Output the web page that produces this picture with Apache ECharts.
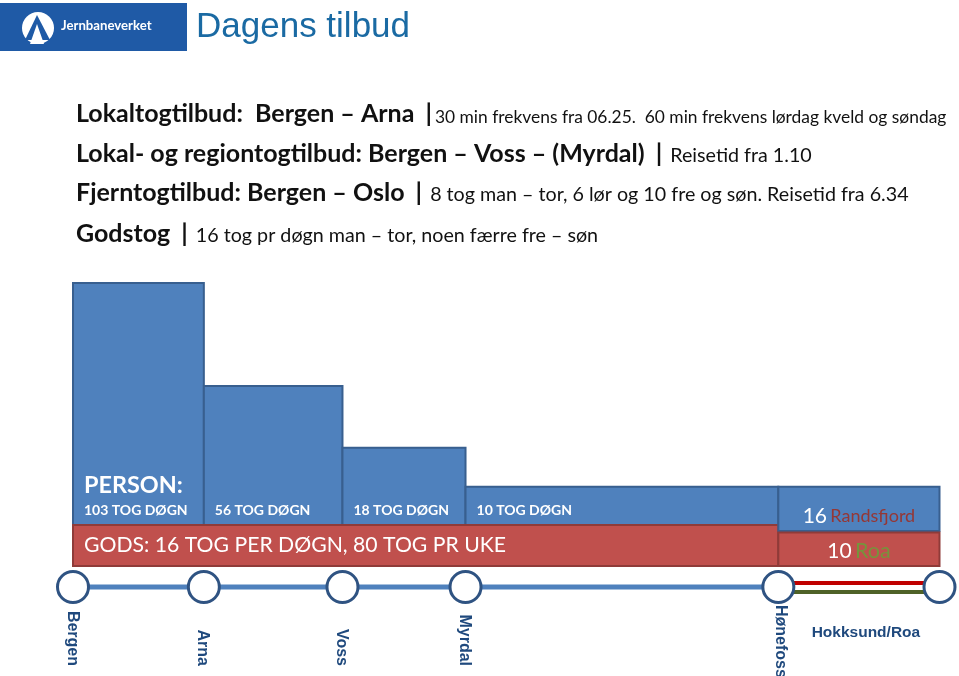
<!DOCTYPE html>
<html>
<head>
<meta charset="utf-8">
<script src="https://cdn.jsdelivr.net/npm/echarts@6/dist/echarts.min.js"></script>
<style>
  html, body { margin: 0; padding: 0; background: #ffffff; }
  #chart { width: 959px; height: 676px; }
</style>
</head>
<body>
<div id="chart"></div>
<script>
// ---------- DATA ----------
const stations = ['Bergen', 'Arna', 'Voss', 'Myrdal', 'Hønefoss', 'Hokksund/Roa'];
// relative position along the line (0 = Bergen, 100 = Hokksund/Roa)
const stationPos = [0, 15.1, 31.1, 45.3, 81.4, 100];
// passenger trains per day on each section (Bergen-Arna, Arna-Voss, Voss-Myrdal, Myrdal-Hønefoss)
const personTrains = [103, 56, 18, 10];
// drawn bar top of each passenger section (chart units, 0..100)
const personBarTop = [100, 63.6, 41.8, 28.0];
// freight band (Bergen - Hønefoss)
const goodsBand = { top: 14.5, bottom: 0 };
const goodsText = 'GODS: 16 TOG PER DØGN, 80 TOG PR UKE';
// branch Hønefoss - Hokksund/Roa
const branchNames = ['Randsfjord', 'Roa'];
const branchTrains = [16, 10];
const branchTop = [28.0, 11.8];
const branchBottom = [12.4, 0];

// header lines: [bold part, detail part]
const headerLines = [
  ['Lokaltogtilbud:  Bergen – Arna ', '30 min frekvens fra 06.25.  60 min frekvens lørdag kveld og søndag'],
  ['Lokal- og regiontogtilbud: Bergen – Voss – (Myrdal) ', ' Reisetid fra 1.10'],
  ['Fjerntogtilbud: Bergen – Oslo ', ' 8 tog man – tor, 6 lør og 10 fre og søn. Reisetid fra 6.34'],
  ['Godstog ', ' 16 tog pr døgn man – tor, noen færre fre – søn']
];

// ---------- STYLE ----------
const C = {
  blue: '#4f81bd', blueEdge: '#385f8f',
  red: '#c0504d', redEdge: '#8f3b39',
  track: '#4f81bd', ring: '#2f5382', label: '#1f497d',
  branchRed: '#c00000', branchGreen: '#4f6228',
  randsfjord: '#953735', roa: '#77933c'
};
const FONT = 'Lato, "Open Sans", sans-serif';
const ARIAL = '"Liberation Sans", Arial, sans-serif';
const trackGap = 21;    // px below the bars
const ringR = 15.5;

const chart = echarts.init(document.getElementById('chart'), null, { renderer: 'canvas' });

const headerGraphics = headerLines.map((ln, i) => ({
  type: 'text',
  left: 76,
  top: [101, 141, 180, 221][i],
  style: {
    text: '{b|' + ln[0] + '}{bar||}{' + (i === 0 ? 's' : 'm') + '|' + ln[1] + '}',
    rich: {
      b: { fontFamily: FONT, fontWeight: 'bold', fontSize: 25, fill: '#111', verticalAlign: 'bottom', lineHeight: 30 },
      bar: { fontFamily: FONT, fontWeight: 'bold', fontSize: 25, fill: '#111', verticalAlign: 'bottom', lineHeight: 30, padding: [0, 3, 0, 5] },
      s: { fontFamily: FONT, fontSize: 17.4, fill: '#111', verticalAlign: 'bottom', lineHeight: 21 },
      m: { fontFamily: FONT, fontSize: 19.7, fill: '#111', verticalAlign: 'bottom', lineHeight: 23.6 }
    }
  }
}));

function personItem(params, api) {
  const i = params.dataIndex;
  const tl = api.coord([api.value(0), api.value(2)]);
  const br = api.coord([api.value(1), goodsBand.top]);
  const children = [{
    type: 'rect',
    shape: { x: tl[0], y: tl[1], width: br[0] - tl[0], height: br[1] - tl[1] },
    style: { fill: C.blue, stroke: C.blueEdge, lineWidth: 2 }
  }, {
    type: 'text',
    x: tl[0] + 11, y: br[1] - 14,
    style: { text: api.value(3) + ' TOG DØGN', fontFamily: FONT, fontWeight: 'bold', fontSize: 14,
      fill: '#fff', verticalAlign: 'middle' }
  }];
  if (i === 0) {
    children.push({
      type: 'text', x: tl[0] + 11, y: br[1] - 40,
      style: { text: 'PERSON:', fontFamily: FONT, fontWeight: 'bold', fontSize: 23.4, fill: '#fff', verticalAlign: 'middle' }
    });
  }
  return { type: 'group', children };
}

function goodsItem(params, api) {
  const tl = api.coord([api.value(0), api.value(2)]);
  const br = api.coord([api.value(1), api.value(3)]);
  return { type: 'group', children: [{
    type: 'rect',
    shape: { x: tl[0], y: tl[1], width: br[0] - tl[0], height: br[1] - tl[1] },
    style: { fill: C.red, stroke: C.redEdge, lineWidth: 2 }
  }, {
    type: 'text', x: tl[0] + 11, y: (tl[1] + br[1]) / 2,
    style: { text: goodsText, fontFamily: FONT, fontSize: 21.2, fill: '#fff', verticalAlign: 'middle' }
  }]};
}

function branchItem(params, api) {
  const i = params.dataIndex;
  const tl = api.coord([api.value(0), api.value(2)]);
  const br = api.coord([api.value(1), api.value(3)]);
  const isBlue = i === 0;
  return { type: 'group', children: [{
    type: 'rect',
    shape: { x: tl[0], y: tl[1], width: br[0] - tl[0], height: br[1] - tl[1] },
    style: { fill: isBlue ? C.blue : C.red, stroke: isBlue ? C.blueEdge : C.redEdge, lineWidth: 2 }
  }, {
    type: 'text', x: (tl[0] + br[0]) / 2, y: (tl[1] + br[1]) / 2 + (isBlue ? 7 : 1.5),
    style: {
      text: '{n|' + api.value(4) + '} {t|' + branchNames[i] + '}',
      align: 'center', verticalAlign: 'middle',
      rich: {
        n: { fontFamily: FONT, fontSize: 21, fill: '#fff' },
        t: { fontFamily: FONT, fontSize: isBlue ? 18 : 21.5, fill: isBlue ? C.randsfjord : C.roa }
      }
    }
  }]};
}

function trackItem(params, api) {
  const a = api.coord([api.value(0), 0]);
  const b = api.coord([api.value(1), 0]);
  const y = a[1] + trackGap;
  if (api.value(2) === 0) {
    return { type: 'line', shape: { x1: a[0], y1: y, x2: b[0], y2: y },
      style: { stroke: C.track, lineWidth: 5 } };
  }
  return { type: 'group', children: [
    { type: 'line', shape: { x1: a[0], y1: y - 4, x2: b[0], y2: y - 4 }, style: { stroke: C.branchRed, lineWidth: 4 } },
    { type: 'line', shape: { x1: a[0], y1: y + 5, x2: b[0], y2: y + 5 }, style: { stroke: C.branchGreen, lineWidth: 4 } }
  ]};
}

function stationItem(params, api) {
  const i = params.dataIndex;
  const p = api.coord([api.value(0), 0]);
  const y = p[1] + trackGap;
  const name = stations[i];
  const children = [{
    type: 'circle', shape: { cx: p[0], cy: y, r: ringR },
    style: { fill: '#fff', stroke: C.ring, lineWidth: 3 }
  }];
  const txt = { fontFamily: ARIAL, fontWeight: 'bold', fontSize: 16, fill: C.label, text: name };
  if (i === stations.length - 1) {
    const prev = api.coord([stationPos[i - 1], 0]);
    txt.fontSize = 15.5;
    children.push({ type: 'text', x: (prev[0] + p[0]) / 2 + 7, y: y + 46,
      style: Object.assign({ align: 'center', verticalAlign: 'middle' }, txt) });
  } else if (i === stations.length - 2) {
    children.push({ type: 'text', x: p[0] + 2, y: y + 18, rotation: -Math.PI / 2,
      style: Object.assign({ align: 'left', verticalAlign: 'middle' }, txt) });
  } else {
    children.push({ type: 'text', x: p[0] - 1, y: y + 79, rotation: -Math.PI / 2,
      style: Object.assign({ align: 'right', verticalAlign: 'middle' }, txt) });
  }
  return { type: 'group', children };
}

const option = {
  backgroundColor: '#ffffff',
  animation: false,
  grid: { left: 73, right: 19.5, top: 283, bottom: 110 },
  xAxis: { type: 'value', min: 0, max: 100, show: false },
  yAxis: { type: 'value', min: 0, max: 100, show: false },
  graphic: [
    { type: 'rect', shape: { x: 0, y: 3, width: 187, height: 48 }, style: { fill: '#1f5aa6' } },
    { type: 'circle', shape: { cx: 38, cy: 28, r: 16 }, style: { fill: '#fff' } },
    { type: 'polygon', shape: { points: [[37, 15], [25, 40], [50, 40]] }, style: { fill: '#1f5aa6' } },
    { type: 'polygon', shape: { points: [[37, 24], [30, 44], [44, 44]] }, style: { fill: '#fff' } },
    { type: 'text', left: 61, top: 19, style: { text: 'Jernbaneverket', fontFamily: FONT, fontWeight: 'bold', fontSize: 13.2, fill: '#fff' } },
    { type: 'text', left: 196, top: 10, style: { text: 'Dagens tilbud', fontFamily: ARIAL, fontSize: 35, fill: '#1a6aa3' } }
  ].concat(headerGraphics),
  series: [
    {
      type: 'custom', name: 'Person',
      renderItem: personItem,
      encode: { x: [0, 1], y: [2] },
      data: personTrains.map((v, i) => [stationPos[i], stationPos[i + 1], personBarTop[i], v])
    },
    {
      type: 'custom', name: 'Gods',
      renderItem: goodsItem,
      encode: { x: [0, 1], y: [2, 3] },
      data: [[stationPos[0], stationPos[4], goodsBand.top, goodsBand.bottom]]
    },
    {
      type: 'custom', name: 'Branch',
      renderItem: branchItem,
      encode: { x: [0, 1], y: [2, 3] },
      data: branchTrains.map((v, i) => [stationPos[4], stationPos[5], branchTop[i], branchBottom[i], v])
    },
    {
      type: 'custom', name: 'Track',
      renderItem: trackItem,
      encode: { x: [0, 1] },
      data: [[stationPos[0], stationPos[4], 0], [stationPos[4], stationPos[5], 1]]
    },
    {
      type: 'custom', name: 'Stations',
      renderItem: stationItem,
      encode: { x: 0 },
      z: 5,
      data: stationPos.map((p, i) => [p, i])
    }
  ]
};
chart.setOption(option);
</script>
</body>
</html>
